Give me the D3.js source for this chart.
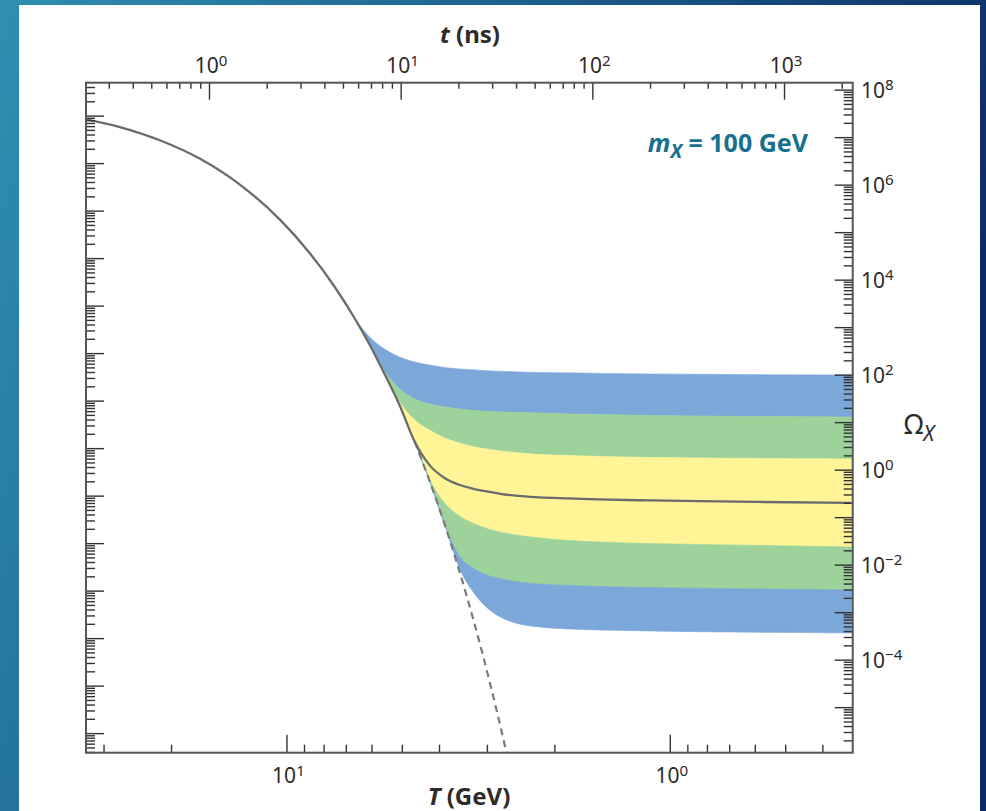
<!DOCTYPE html>
<html>
<head>
<meta charset="utf-8">
<script src="https://cdn.jsdelivr.net/npm/d3@7"></script>
<style>
  html, body { margin: 0; padding: 0; }
  body { width: 986px; height: 811px; overflow: hidden; }
  svg { display: block; font-family: "Noto Sans", "Open Sans", sans-serif; }
</style>
</head>
<body>
<div id="chart"></div>
<script>
// solid curve: temperature (GeV) and relic abundance
let temps = [33.3, 27.2, 21.4, 16.8, 13.2, 10.4, 8.7, 7.48, 6.64, 6.07, 5.55, 5.07, 4.63, 4.24,
             3.87, 3.54, 3.23, 2.95, 2.70, 2.47, 2.19, 1.83, 1.53, 1.13, 0.84, 0.585, 0.336];
let omega = [2.37e7, 1.63e7, 8.6e6, 3.5e6, 9.9e5, 1.83e5, 3.65e4, 7.0e3, 1.54e3, 430, 104, 23, 3.9, 1.26,
             0.67, 0.48, 0.39, 0.34, 0.30, 0.28, 0.26, 0.248, 0.236, 0.225, 0.217, 0.209, 0.199];

// equilibrium (dashed) tail
let eqTemps = [4.63, 4.24, 3.87, 3.54, 3.23, 2.95, 2.70, 2.47];
let eqOmega = [3.9, 0.60, 0.072, 7.4e-3, 5.6e-4, 3.4e-5, 1.7e-6, 6.2e-8];

// band edges, top to bottom
let bandTemps = [6.64, 6.07, 5.55, 5.07, 4.63, 4.24, 3.87, 3.54, 3.23, 2.95, 2.70, 2.47, 2.19, 1.83, 1.53, 1.13, 0.84, 0.585, 0.336];
let edge0 = [1560, 622, 348, 236, 185, 160, 142, 132, 126, 120, 117, 114, 111, 109, 106, 103.5, 102, 100, 98.6];
let edge1 = [1560, 430, 120, 50, 30.8, 24.2, 20.9, 19.0, 17.6, 16.8, 16.4, 16.0, 15.6, 14.9, 14.5, 13.8, 13.5, 13.2, 12.9];
let edge2 = [1560, 430, 106, 26.6, 11.1, 6.85, 4.65, 3.65, 3.0, 2.66, 2.42, 2.25, 2.09, 1.99, 1.90, 1.81, 1.76, 1.72, 1.68];
let edge3 = [1560, 430, 104, 23, 3.83, 0.637, 0.199, 0.106, 0.072, 0.0551, 0.0465, 0.0412, 0.0365, 0.0323, 0.0301, 0.0279, 0.0266, 0.0254, 0.0236];
let edge4 = [1560, 430, 104, 21.9, 3.83, 0.607, 0.0723, 0.0153, 8.1e-3, 5.8e-3, 4.88e-3, 4.32e-3, 3.92e-3, 3.65e-3, 3.48e-3, 3.31e-3, 3.19e-3, 3.08e-3, 2.93e-3];
let edge5 = [1560, 430, 104, 21.9, 3.83, 0.607, 0.0723, 8.5e-3, 2.42e-3, 1.11e-3, 7.2e-4, 5.65e-4, 4.88e-4, 4.43e-4, 4.22e-4, 4.02e-4, 3.88e-4, 3.77e-4, 3.65e-4];
let bandColors = ["#7ba7d9", "#9dd29b", "#fff597", "#9dd29b", "#7ba7d9"];

// tick labels (powers of ten)
let tLabels = [0, 1, 2, 3];
let TLabels = [1, 0];
let omegaLabels = [8, 6, 4, 2, 0, -2, -4];

let width = 986, height = 811;
let plot = {left: 86, right: 852.7, top: 82.7, bottom: 752.7};

let x = d3.scaleLog().domain([100 / 3, 1 / 3]).range([plot.left, plot.right]);
let xTop = d3.scaleLog().domain([0.2282, 2282]).range([plot.left, plot.right]);
let y = d3.scaleLog().domain([1.1e-6, 1.4e8]).range([plot.bottom, plot.top]);
// unlabeled left axis sits half a decade off the right one
let yLeft = d3.scaleLog().domain([1.1e-6 * 3.52, 1.4e8 * 3.52]).range([plot.bottom, plot.top]);

function logTicks(scale, minor) {
    let [a, b] = d3.extent(scale.domain());
    let out = [];
    for (let e = Math.floor(Math.log10(a)); e <= Math.ceil(Math.log10(b)); e++) {
        if (minor) for (let m = 2; m <= 9; m++) out.push(m * Math.pow(10, e));
        else out.push(Math.pow(10, e));
    }
    return out.filter(v => v >= a * 0.9999 && v <= b * 1.0001);
}

let svg = d3.select("#chart").append("svg")
    .attr("width", width)
    .attr("height", height)
    .attr("viewBox", [0, 0, width, height]);

let defs = svg.append("defs");
let grad = defs.append("linearGradient").attr("id", "bg").attr("x1", 0).attr("x2", 1).attr("y1", 0).attr("y2", 0.3);
grad.append("stop").attr("offset", "0%").attr("stop-color", "#2f90b0");
grad.append("stop").attr("offset", "50%").attr("stop-color", "#1c5e8e");
grad.append("stop").attr("offset", "100%").attr("stop-color", "#0c2c68");
defs.append("clipPath").attr("id", "clip")
    .append("rect")
    .attr("x", plot.left).attr("y", plot.top)
    .attr("width", plot.right - plot.left).attr("height", plot.bottom - plot.top);

svg.append("rect").attr("width", width).attr("height", height).attr("fill", "url(#bg)");
svg.append("rect").attr("x", 19).attr("y", 5).attr("width", 961).attr("height", 806).attr("fill", "white");

// bands
let edges = [edge0, edge1, edge2, edge3, edge4, edge5];
let area = d3.area()
    .x(d => x(d.T))
    .y0(d => y(d.lo))
    .y1(d => y(d.hi))
    .curve(d3.curveMonotoneX);

let plotG = svg.append("g").attr("clip-path", "url(#clip)");
plotG.selectAll("path.band")
    .data(bandColors)
    .join("path")
    .attr("class", "band")
    .attr("fill", d => d)
    .attr("stroke", d => d)
    .attr("stroke-width", 0.6)
    .attr("d", (c, i) => area(bandTemps.map((T, k) => ({T: T, hi: edges[i][k], lo: edges[i + 1][k]}))));

let line = d3.line()
    .x(d => x(d[0]))
    .y(d => y(d[1]))
    .curve(d3.curveMonotoneX);

plotG.append("path")
    .attr("fill", "none")
    .attr("stroke", "#7a7a7a")
    .attr("stroke-width", 2.2)
    .attr("stroke-dasharray", "7,5")
    .attr("d", line(d3.zip(eqTemps, eqOmega)));

plotG.append("path")
    .attr("fill", "none")
    .attr("stroke", "#6b6b6b")
    .attr("stroke-width", 2.3)
    .attr("d", line(d3.zip(temps, omega)));

// ticks
function tickAxis(axis, size, values) {
    return g => g.call(axis.tickValues(values).tickSize(size).tickFormat(""))
        .call(g => g.select(".domain").remove())
        .call(g => g.selectAll(".tick line").attr("stroke", "#333").attr("stroke-width", 1.4));
}

svg.append("g").attr("transform", `translate(0,${plot.top})`)
    .call(tickAxis(d3.axisBottom(xTop), 17, logTicks(xTop, false)));
svg.append("g").attr("transform", `translate(0,${plot.top})`)
    .call(tickAxis(d3.axisBottom(xTop), 6, logTicks(xTop, true)));

svg.append("g").attr("transform", `translate(0,${plot.bottom})`)
    .call(tickAxis(d3.axisTop(x), 18, logTicks(x, false)));
svg.append("g").attr("transform", `translate(0,${plot.bottom})`)
    .call(tickAxis(d3.axisTop(x), 8, logTicks(x, true)));

svg.append("g").attr("transform", `translate(${plot.right},0)`)
    .call(tickAxis(d3.axisLeft(y), 18, logTicks(y, false)));
svg.append("g").attr("transform", `translate(${plot.right},0)`)
    .call(tickAxis(d3.axisLeft(y), 9, logTicks(y, true)));

svg.append("g").attr("transform", `translate(${plot.left},0)`)
    .call(tickAxis(d3.axisRight(yLeft), 18, logTicks(yLeft, false)));
svg.append("g").attr("transform", `translate(${plot.left},0)`)
    .call(tickAxis(d3.axisRight(yLeft), 9, logTicks(yLeft, true)));

svg.append("rect")
    .attr("x", plot.left).attr("y", plot.top)
    .attr("width", plot.right - plot.left).attr("height", plot.bottom - plot.top)
    .attr("fill", "none")
    .attr("stroke", "#555")
    .attr("stroke-width", 2);

// tick labels
function powerLabel(sel, exp) {
    sel.append("tspan").text("10");
    sel.append("tspan")
        .attr("dy", "-0.48em")
        .attr("font-size", "0.72em")
        .text(String(exp).replace("-", "\u2212"));
}

let textColor = "#2e2a28";

svg.append("g")
    .selectAll("text")
    .data(tLabels)
    .join("text")
    .attr("x", d => xTop(Math.pow(10, d)) + 2)
    .attr("y", 73)
    .attr("text-anchor", "middle")
    .attr("font-size", 21)
    .attr("fill", textColor)
    .each(function(d) { powerLabel(d3.select(this), d); });

svg.append("g")
    .selectAll("text")
    .data(TLabels)
    .join("text")
    .attr("x", d => x(Math.pow(10, d)) + 2)
    .attr("y", 783)
    .attr("text-anchor", "middle")
    .attr("font-size", 21)
    .attr("fill", textColor)
    .each(function(d) { powerLabel(d3.select(this), d); });

svg.append("g")
    .selectAll("text")
    .data(omegaLabels)
    .join("text")
    .attr("x", 861)
    .attr("y", d => y(Math.pow(10, d)) + 8)
    .attr("font-size", 21)
    .attr("fill", textColor)
    .each(function(d) { powerLabel(d3.select(this), d); });

// axis titles
let tTitle = svg.append("text")
    .attr("x", 470).attr("y", 43)
    .attr("text-anchor", "middle")
    .attr("font-size", 24)
    .attr("font-weight", "bold")
    .attr("fill", textColor);
tTitle.append("tspan").attr("font-style", "italic").text("t");
tTitle.append("tspan").text(" (ns)");

let TTitle = svg.append("text")
    .attr("x", 469).attr("y", 805)
    .attr("text-anchor", "middle")
    .attr("font-size", 24)
    .attr("font-weight", "bold")
    .attr("fill", textColor);
TTitle.append("tspan").attr("font-style", "italic").text("T");
TTitle.append("tspan").text(" (GeV)");

let omTitle = svg.append("text")
    .attr("x", 904).attr("y", 434)
    .attr("font-size", 27)
    .attr("fill", textColor);
omTitle.append("tspan").text("\u03A9");
omTitle.append("tspan").attr("dy", 7).attr("font-size", 21).attr("font-style", "italic").text("X");

let mass = svg.append("text")
    .attr("x", 808).attr("y", 152)
    .attr("text-anchor", "end")
    .attr("font-size", 25)
    .attr("font-weight", "bold")
    .attr("fill", "#17708e");
mass.append("tspan").attr("font-style", "italic").text("m");
mass.append("tspan").attr("dy", 6).attr("font-size", 19).attr("font-style", "italic").text("X");
mass.append("tspan").attr("dy", -6).text(" = 100 GeV");
</script>
</body>
</html>
